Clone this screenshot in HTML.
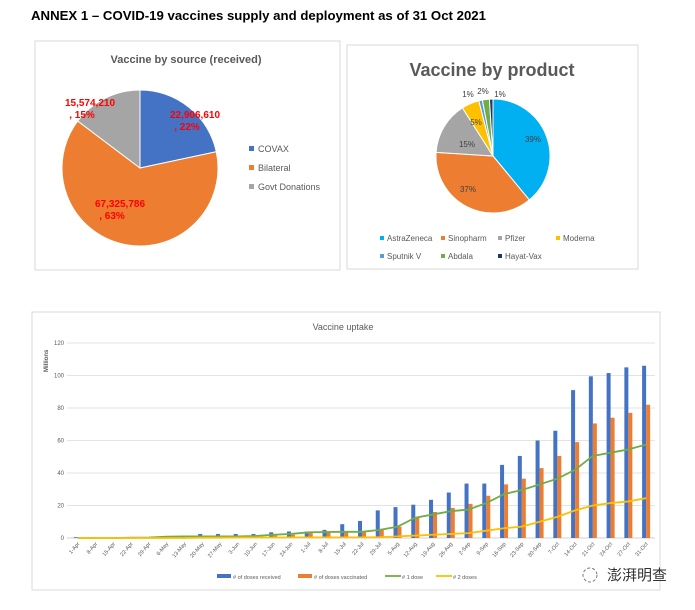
<!DOCTYPE html>
<html><head><meta charset="utf-8"><style>
body{margin:0;background:#fff;width:695px;height:605px;overflow:hidden;font-family:"Liberation Sans","Noto Sans CJK SC",sans-serif}
</style></head><body>
<svg width="695" height="605" viewBox="0 0 695 605" xmlns="http://www.w3.org/2000/svg" font-family="Liberation Sans, Noto Sans CJK SC, sans-serif">
<text x="31" y="20" font-size="13" font-weight="bold" fill="#000" textLength="455" lengthAdjust="spacingAndGlyphs">ANNEX 1 – COVID-19 vaccines supply and deployment as of 31 Oct 2021</text>
<rect x="35" y="41" width="305" height="229" fill="#fff" stroke="#d9d9d9"/>
<text x="186" y="63" font-size="11" font-weight="bold" fill="#595959" text-anchor="middle">Vaccine by source (received)</text>
<g id="pie1"></g>
<g id="leg1"></g>
<rect x="347" y="45" width="291" height="224" fill="#fff" stroke="#d9d9d9"/>
<text x="492" y="76" font-size="18" font-weight="bold" fill="#595959" text-anchor="middle">Vaccine by product</text>
<g id="pie2"></g>
<g id="leg2"></g>
<rect x="32" y="312" width="628" height="278" fill="#fff" stroke="#d9d9d9"/>
<text x="343" y="330" font-size="9" fill="#595959" text-anchor="middle">Vaccine uptake</text>
<text transform="translate(48,372) rotate(-90)" font-size="6" font-weight="bold" fill="#595959">Millions</text>
<g id="bar"></g>
<text x="607" y="580" font-size="15" fill="#333">澎湃明查</text>
<circle cx="590" cy="575" r="7" fill="none" stroke="#777" stroke-dasharray="3 2"/>
</svg>
<script>
const NS="http://www.w3.org/2000/svg";
function mk(p,t,a){const e=document.createElementNS(NS,t);for(const k in a)e.setAttribute(k,a[k]);p.appendChild(e);return e;}
const srcLabels=["COVAX","Bilateral","Govt Donations"];
const srcValues=[22906610,67325786,15574210];
const srcPct=[22,63,15];
const srcColors=["#4472c4","#ed7d31","#a5a5a5"];
const prodLabels=["AstraZeneca","Sinopharm","Pfizer","Moderna","Sputnik V","Abdala","Hayat-Vax"];
const prodValues=[39,37,15,5,1,2,1];
const prodColors=["#00b0f0","#ed7d31","#a5a5a5","#ffc000","#5b9bd5","#70ad47","#1f3864"];
function pie(g,cx,cy,r,vals,cols,names){
  const tot=vals.reduce((a,b)=>a+b,0);let a0=0;const out=[];
  vals.forEach((v,i)=>{const a1=a0+v/tot*2*Math.PI;
    const x0=cx+r*Math.sin(a0),y0=cy-r*Math.cos(a0),x1=cx+r*Math.sin(a1),y1=cy-r*Math.cos(a1);
    const p=mk(g,"path",{d:`M${cx},${cy}L${x0},${y0}A${r},${r} 0 ${a1-a0>Math.PI?1:0} 1 ${x1},${y1}Z`,fill:cols[i],stroke:"#fff","stroke-width":1});
    
    
    out.push({mid:(a0+a1)/2,frac:v/tot});a0=a1;});
  return out;}
const g1=document.getElementById("pie1");
const s1=pie(g1,140,168,78,srcValues,srcColors,srcLabels);
const lp1=[[195,118],[120,207],[90,106]];
s1.forEach((s,i)=>{
  const t=mk(g1,"text",{x:lp1[i][0],y:lp1[i][1],"font-size":10,"font-weight":"bold",fill:"#ff0000","text-anchor":"middle"});
  
  
  t.textContent=srcValues[i].toLocaleString('en-US');
  const t2=mk(g1,"text",{x:lp1[i][0]-8,y:lp1[i][1]+12,"font-size":10,"font-weight":"bold",fill:"#ff0000","text-anchor":"middle"});
  
  
  t2.textContent=", "+srcPct[i]+"%";
});
const l1=document.getElementById("leg1");
srcLabels.forEach((n,i)=>{
  const r=mk(l1,"rect",{x:249,y:146+i*19,width:5,height:5,fill:srcColors[i]});
  
  
  const t=mk(l1,"text",{x:258,y:152+i*19,"font-size":9,fill:"#595959"});
  
  
  t.textContent=n;});
const g2=document.getElementById("pie2");
const s2=pie(g2,493,156,57,prodValues,prodColors,prodLabels);
const lp2=[[533,142],[468,192],[467,147],[476,125],[468,97],[483,94],[500,97]];
s2.forEach((s,i)=>{
  const t=mk(g2,"text",{x:lp2[i][0],y:lp2[i][1],"font-size":8,fill:"#404040","text-anchor":"middle"});
  
  
  t.textContent=prodValues[i]+"%";});
const l2=document.getElementById("leg2");
const lx=[380,441,498,556,380,441,498];
prodLabels.forEach((n,i)=>{
  const y=i<4?241:259;
  const r=mk(l2,"rect",{x:lx[i],y:y-5,width:4,height:4,fill:prodColors[i]});
  
  
  const t=mk(l2,"text",{x:lx[i]+7,y:y,"font-size":8,fill:"#595959"});
  
  
  t.textContent=n;});
const dates=["1-Apr","8-Apr","15-Apr","22-Apr","29-Apr","6-May","13-May","20-May","27-May","3-Jun","10-Jun","17-Jun","24-Jun","1-Jul","8-Jul","15-Jul","22-Jul","29-Jul","5-Aug","12-Aug","19-Aug","26-Aug","2-Sep","9-Sep","16-Sep","23-Sep","30-Sep","7-Oct","14-Oct","21-Oct","24-Oct","27-Oct","31-Oct"];
const received=[0.5,0.5,0.5,0.3,0.3,0.5,1,2.5,2.5,2.5,2.5,3.5,4,4,5,8.5,10.5,17,19,20.5,23.5,28,33.5,33.5,45,50.5,60,66,91,99.5,101.5,105,106];
const vaccinated=[0,0,0,0,0,0,0,0,0.3,0.3,0.5,1.5,2,3,3.5,3.5,4,5,7,12.5,16,18.5,21,26,33,36.5,43,50.5,59,70.5,74,77,82];
const dose1=[0,0,0,0.2,0.3,0.8,1,1,1,1,1.2,2,2.5,3.5,3.7,3.8,3.8,5,7,12.5,14.5,16.5,17.5,21.5,27,29.5,33,36.5,42,50.5,52.5,54.5,57.5];
const dose2=[0,0,0,0,0,0,0,0.2,0.2,0.3,0.3,0.3,0.4,0.4,0.4,0.4,0.4,0.5,1,1.5,2,2.5,3,4.5,6,7,10,13,17,20,21.5,22.5,24.5];
const yTicks=[0,20,40,60,80,100,120];
const X0=69,X1=655,Y0=538,Y1=343;
const bw=(X1-X0)/dates.length;
const xs=i=>X0+bw*(i+0.5);
const ys=v=>Y0-(v/120)*(Y0-Y1);
const gb=document.getElementById("bar");
yTicks.forEach(t=>{
  const l=mk(gb,"line",{x1:X0-2,x2:X1,y1:ys(t),y2:ys(t),stroke:t?"#e3e3e3":"#d0d0d0","stroke-width":1});
  
  
  const tx=mk(gb,"text",{x:X0-5,y:ys(t)+2,"font-size":6,fill:"#595959","text-anchor":"end"});
  
  
  tx.textContent=t;});
dates.forEach((d,i)=>{
  const b=mk(gb,"rect",{x:xs(i)-4,y:ys(received[i]),width:4,height:Y0-ys(received[i]),fill:"#4472c4"});
  
  
  const b2=mk(gb,"rect",{x:xs(i),y:ys(vaccinated[i]),width:4,height:Y0-ys(vaccinated[i]),fill:"#ed7d31"});
  
  
  const t=mk(gb,"text",{transform:`translate(${xs(i)+2},${Y0+6}) rotate(-50)`,"font-size":5.5,fill:"#595959","text-anchor":"end"});
  
  
  t.textContent=d;});
[[dose1,"#70ad47","line-1-dose"],[dose2,"#ffc000","line-2-doses"]].forEach(([arr,c,n])=>{
  const p=mk(gb,"polyline",{points:arr.map((v,i)=>xs(i)+","+ys(v)).join(" "),fill:"none",stroke:c,"stroke-width":1.8});
  
  });
const legN=["# of doses received","# of doses vaccinated","# 1 dose","# 2 doses"];
const legC=["#4472c4","#ed7d31","#70ad47","#ffc000"];
const legX=[217,298,385,436];
legN.forEach((n,i)=>{
  const s=i<2?mk(gb,"rect",{x:legX[i],y:574,width:14,height:4,fill:legC[i]}):mk(gb,"line",{x1:legX[i],x2:legX[i]+16,y1:576,y2:576,stroke:legC[i],"stroke-width":1.8});
  
  
  const t=mk(gb,"text",{x:legX[i]+(i<2?16:17),y:579,"font-size":5.5,fill:"#595959"});
  
  
  t.textContent=n;});
</script>
</body></html>
